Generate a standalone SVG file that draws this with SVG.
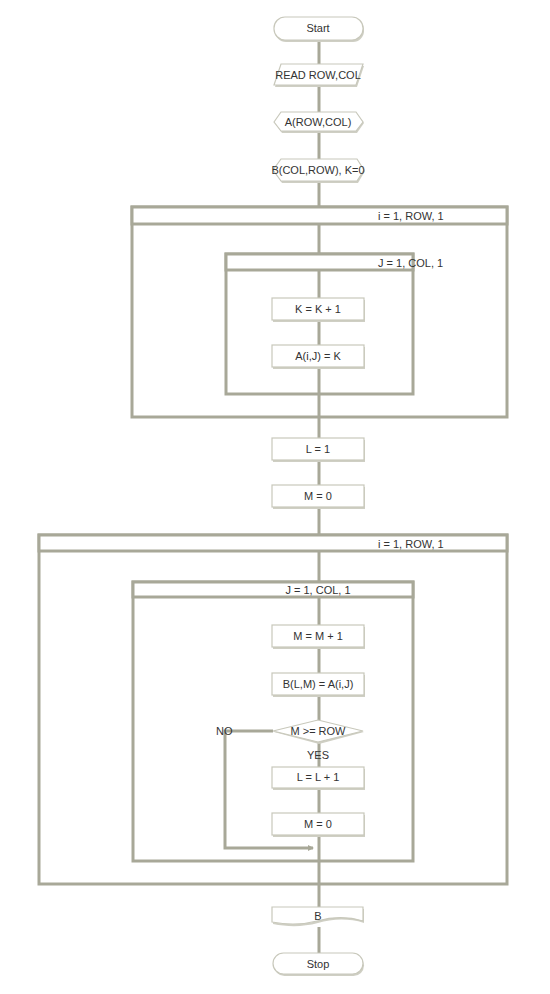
<svg xmlns="http://www.w3.org/2000/svg" width="550" height="994" viewBox="0 0 550 994">
<defs>
<style>
.ln{stroke:#a8a898;stroke-width:3;fill:none}
.fr{stroke:#a8a898;stroke-width:3;fill:none}
.hd{stroke:#a8a898;stroke-width:3;fill:#fff}
.bx{fill:#fff;stroke:#c8c8bb;stroke-width:1.2}
.sh{fill:#cfcfc4}
text{font-family:"Liberation Sans",Arial,sans-serif;font-size:11px;fill:#333}
.c{text-anchor:middle}
</style>
<marker id="ah" markerWidth="6" markerHeight="6" refX="5" refY="3" orient="auto" markerUnits="userSpaceOnUse">
<path d="M0,0 L6,3 L0,6 z" fill="#a8a898"/>
</marker>
</defs>
<rect width="550" height="994" fill="#fff"/>

<g id="loops">
<g id="loop1">
<rect class="fr" x="132" y="207" width="375" height="210"/>
<rect class="hd" x="132" y="207" width="375" height="17"/>
<text x="378" y="220">i = 1, ROW, 1</text>
</g>
<g id="loop1inner">
<rect class="fr" x="226" y="254" width="187" height="140"/>
<rect class="hd" x="226" y="254" width="187" height="16"/>
<text x="378" y="267">J = 1, COL, 1</text>
</g>
<g id="loop2">
<rect class="fr" x="39" y="535" width="468" height="349"/>
<rect class="hd" x="39" y="535" width="468" height="16"/>
<text x="378" y="548">i = 1, ROW, 1</text>
</g>
<g id="loop2inner">
<rect class="fr" x="133" y="582" width="280" height="279"/>
<rect class="hd" x="133" y="582" width="280" height="15"/>
<text x="318" y="594" class="c">J = 1, COL, 1</text>
</g>
</g>

<g id="connectors">
<path class="ln" d="M319,40 V64 M319,85 V112 M319,131 V159 M319,181 V207 M319,224 V254 M319,270 V298 M319,320 V345 M319,367 V438 M319,460 V485 M319,508 V535 M319,551 V582 M319,597 V625 M319,647 V673 M319,695 V720 M319,742 V767 M319,788 V813 M319,835 V907 M319,927 V953"/>
<path class="ln" d="M273,731 H225 V848 H313" marker-end="url(#ah)"/>
<text x="216" y="735">NO</text>
<text x="318" y="759" class="c">YES</text>
</g>

<g id="start">
<rect class="sh" x="275" y="19" width="89" height="23" rx="11"/>
<rect class="bx" x="274" y="17" width="89" height="23" rx="11"/>
<text x="318" y="32" class="c">Start</text>
</g>
<g id="read">
<polygon class="sh" points="282,66 364,66 357,87 275,87"/>
<polygon class="bx" points="281,64 363,64 356,85 274,85"/>
<text x="318" y="79" class="c">READ ROW,COL</text>
</g>
<g id="decla">
<polygon class="sh" points="275,123 282,114 357,114 364,123 357,133 282,133"/>
<polygon class="bx" points="274,122 281,112 356,112 363,122 356,131 281,131"/>
<text x="318" y="126" class="c">A(ROW,COL)</text>
</g>
<g id="declb">
<polygon class="sh" points="274,171 282,161 358,161 365,171 358,183 282,183"/>
<polygon class="bx" points="273,170 281,159 357,159 364,170 357,181 281,181"/>
<text x="318" y="174" class="c">B(COL,ROW), K=0</text>
</g>
<g id="kinc">
<rect class="sh" x="273" y="300" width="92" height="22"/>
<rect class="bx" x="272" y="298" width="92" height="22"/>
<text x="318" y="313" class="c">K = K + 1</text>
</g>
<g id="aset">
<rect class="sh" x="273" y="347" width="92" height="22"/>
<rect class="bx" x="272" y="345" width="92" height="22"/>
<text x="318" y="360" class="c">A(i,J) = K</text>
</g>
<g id="l1">
<rect class="sh" x="273" y="440" width="92" height="22"/>
<rect class="bx" x="272" y="438" width="92" height="22"/>
<text x="318" y="453" class="c">L = 1</text>
</g>
<g id="m0a">
<rect class="sh" x="273" y="487" width="92" height="22"/>
<rect class="bx" x="272" y="485" width="92" height="22"/>
<text x="318" y="500" class="c">M = 0</text>
</g>
<g id="minc">
<rect class="sh" x="273" y="627" width="92" height="22"/>
<rect class="bx" x="272" y="625" width="92" height="22"/>
<text x="318" y="640" class="c">M = M + 1</text>
</g>
<g id="bset">
<rect class="sh" x="273" y="675" width="92" height="22"/>
<rect class="bx" x="272" y="673" width="92" height="22"/>
<text x="318" y="688" class="c">B(L,M) = A(i,J)</text>
</g>
<g id="cond">
<polygon class="sh" points="274,732 319,721 364,732 319,744"/>
<polygon class="bx" points="273,731 318,720 363,731 318,742"/>
<text x="318" y="735" class="c">M &gt;= ROW</text>
</g>
<g id="linc">
<rect class="sh" x="273" y="769" width="92" height="21"/>
<rect class="bx" x="272" y="767" width="92" height="21"/>
<text x="318" y="781" class="c">L = L + 1</text>
</g>
<g id="m0b">
<rect class="sh" x="273" y="815" width="92" height="22"/>
<rect class="bx" x="272" y="813" width="92" height="22"/>
<text x="318" y="828" class="c">M = 0</text>
</g>
<g id="outb">
<path class="sh" d="M273,909 H364 V923 C348,918 332,919 318,923 C303,927 288,927 273,924 Z"/>
<path class="bx" d="M272,907 H363 V921 C347,916 331,917 317,921 C302,925 287,925 272,922 Z"/>
<text x="318" y="920" class="c">B</text>
</g>
<g id="stop">
<rect class="sh" x="274" y="955" width="90" height="21" rx="10.5"/>
<rect class="bx" x="273" y="953" width="90" height="21" rx="10.5"/>
<text x="318" y="968" class="c">Stop</text>
</g>
</svg>
